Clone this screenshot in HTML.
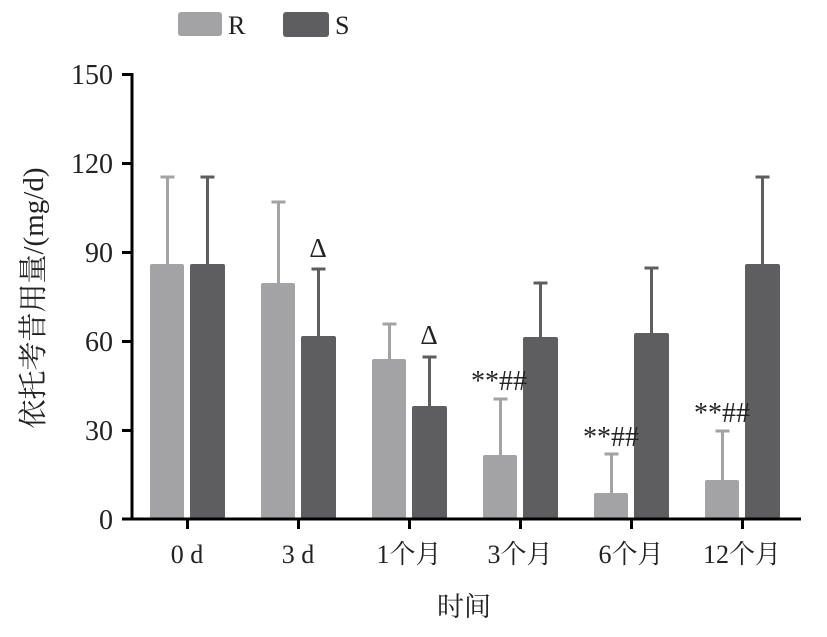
<!DOCTYPE html>
<html><head><meta charset="utf-8"><style>html,body{margin:0;padding:0;background:#fff}svg{display:block}text{font-family:"Liberation Serif","Noto Serif CJK SC",serif;fill:#222}</style></head><body>
<svg width="827" height="637" viewBox="0 0 827 637" xmlns="http://www.w3.org/2000/svg">
<rect x="178" y="12" width="44" height="24" rx="3" fill="#a3a3a6"/>
<text x="228" y="34" font-size="26">R</text>
<rect x="283" y="12" width="46" height="25" rx="3" fill="#5e5e60"/>
<text x="335" y="34" font-size="26">S</text>
<g fill="#a3a3a6" stroke="#a3a3a6">
<line x1="167.5" y1="176" x2="167.5" y2="265" stroke-width="3"/><line x1="160.5" y1="177" x2="174.5" y2="177" stroke-width="3"/><rect x="150" y="264" width="34" height="255" rx="2" stroke="none"/>
<line x1="278.5" y1="201" x2="278.5" y2="284" stroke-width="3"/><line x1="271.5" y1="202" x2="285.5" y2="202" stroke-width="3"/><rect x="261" y="283" width="34" height="236" rx="2" stroke="none"/>
<line x1="389.5" y1="323" x2="389.5" y2="360" stroke-width="3"/><line x1="382.5" y1="324" x2="396.5" y2="324" stroke-width="3"/><rect x="372" y="359" width="34" height="160" rx="2" stroke="none"/>
<line x1="500.5" y1="398" x2="500.5" y2="456" stroke-width="3"/><line x1="493.5" y1="399" x2="507.5" y2="399" stroke-width="3"/><rect x="483" y="455" width="34" height="64" rx="2" stroke="none"/>
<line x1="611.5" y1="453" x2="611.5" y2="494" stroke-width="3"/><line x1="604.5" y1="454" x2="618.5" y2="454" stroke-width="3"/><rect x="594" y="493" width="34" height="26" rx="2" stroke="none"/>
<line x1="722.5" y1="430" x2="722.5" y2="481" stroke-width="3"/><line x1="715.5" y1="431" x2="729.5" y2="431" stroke-width="3"/><rect x="705" y="480" width="34" height="39" rx="2" stroke="none"/>
</g>
<g fill="#5e5e60" stroke="#5e5e60">
<line x1="207.5" y1="176" x2="207.5" y2="265" stroke-width="3"/><line x1="200.5" y1="177" x2="214.5" y2="177" stroke-width="3"/><rect x="190" y="264" width="35" height="255" rx="2" stroke="none"/>
<line x1="318.5" y1="268" x2="318.5" y2="337" stroke-width="3"/><line x1="311.5" y1="269" x2="325.5" y2="269" stroke-width="3"/><rect x="301" y="336" width="35" height="183" rx="2" stroke="none"/>
<line x1="429.5" y1="356" x2="429.5" y2="407" stroke-width="3"/><line x1="422.5" y1="357" x2="436.5" y2="357" stroke-width="3"/><rect x="412" y="406" width="35" height="113" rx="2" stroke="none"/>
<line x1="540.5" y1="282" x2="540.5" y2="338" stroke-width="3"/><line x1="533.5" y1="283" x2="547.5" y2="283" stroke-width="3"/><rect x="523" y="337" width="35" height="182" rx="2" stroke="none"/>
<line x1="651.5" y1="267" x2="651.5" y2="334" stroke-width="3"/><line x1="644.5" y1="268" x2="658.5" y2="268" stroke-width="3"/><rect x="634" y="333" width="35" height="186" rx="2" stroke="none"/>
<line x1="762.5" y1="176" x2="762.5" y2="265" stroke-width="3"/><line x1="755.5" y1="177" x2="769.5" y2="177" stroke-width="3"/><rect x="745" y="264" width="35" height="255" rx="2" stroke="none"/>
</g>
<g font-size="28" text-anchor="end">
<text x="113" y="84">150</text><text x="113" y="173">120</text><text x="113" y="262">90</text><text x="113" y="351">60</text><text x="113" y="440">30</text><text x="113" y="529">0</text>
</g>
<g stroke="#000" stroke-width="3">
<line x1="132" y1="73" x2="132" y2="520"/>
<line x1="122" y1="74.5" x2="132" y2="74.5"/><line x1="122" y1="163.5" x2="132" y2="163.5"/><line x1="122" y1="252.5" x2="132" y2="252.5"/><line x1="122" y1="341.5" x2="132" y2="341.5"/><line x1="122" y1="430.5" x2="132" y2="430.5"/><line x1="122" y1="519" x2="132" y2="519"/>
<line x1="131" y1="519" x2="801" y2="519"/>
<line x1="187.5" y1="519" x2="187.5" y2="529"/><line x1="298.5" y1="519" x2="298.5" y2="529"/><line x1="409.5" y1="519" x2="409.5" y2="529"/><line x1="520.5" y1="519" x2="520.5" y2="529"/><line x1="631.5" y1="519" x2="631.5" y2="529"/><line x1="742.5" y1="519" x2="742.5" y2="529"/>
</g>
<g font-size="26" text-anchor="middle">
<text x="187" y="563">0 d</text><text x="298" y="563">3 d</text><text x="409" y="563">1个月</text><text x="520" y="563">3个月</text><text x="631" y="563">6个月</text><text x="742" y="563">12个月</text>
<text x="464" y="616" font-size="27">时间</text>
<text x="318" y="257" font-size="27">Δ</text>
<text x="429" y="344" font-size="27">Δ</text>
<text x="499" y="390" font-size="28">**##</text>
<text x="611" y="446" font-size="28">**##</text>
<text x="722" y="422" font-size="28">**##</text>
</g>
<text transform="translate(43,298) rotate(-90)" font-size="29" text-anchor="middle">依托考昔用量/(mg/d)</text>
</svg>
</body></html>
